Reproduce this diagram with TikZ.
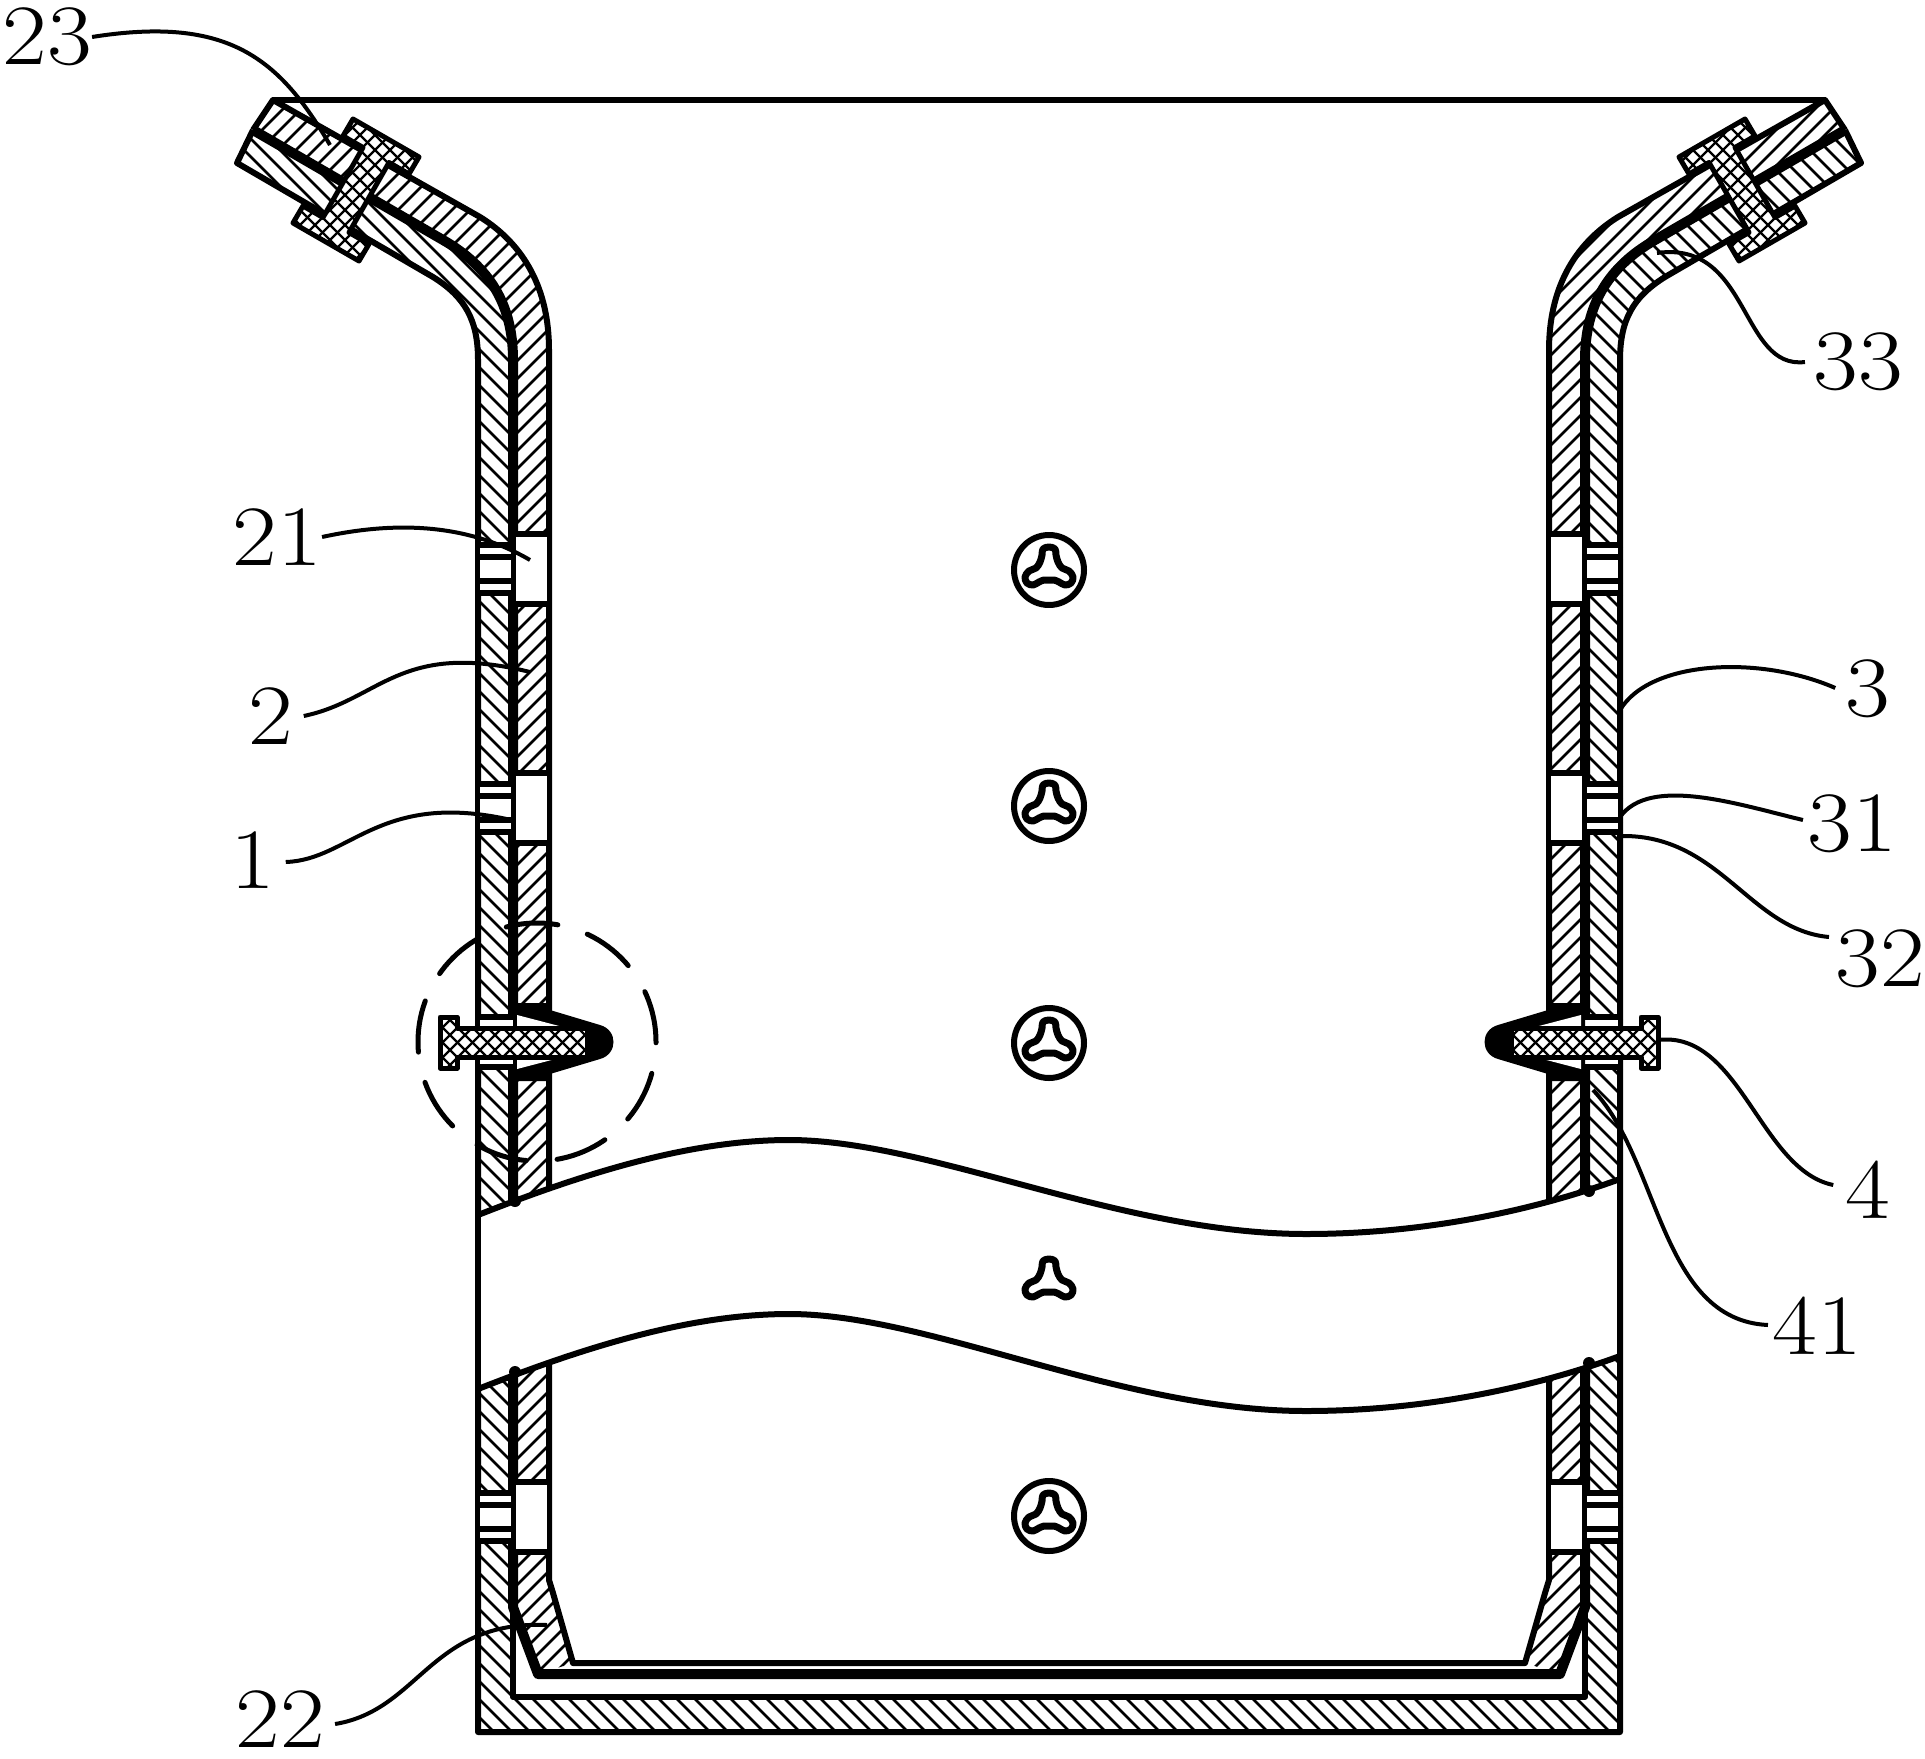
\documentclass[tikz,border=0pt]{standalone}

\tikzset{
    wall/.style={line width=3pt, line join=round},
    liner/.style={line width=5pt, line join=round},
    wave/.style={line width=3pt},
    hatchline/.style={line width=1.3pt},
    crossline/.style={line width=1.2pt},
    leader/.style={line width=2pt},
    lab/.style={font=\fontsize{43}{43}\selectfont, inner sep=0pt, xscale=1.13, transform shape}
}

% #1 slope of the lines, #2 closed path
\newcommand\hatchregion[2]{
    \begin{scope}
        \clip #2;
        \foreach \hc in {-3100,-3082,...,2800} {
            \draw[hatchline] (200,{\hc+\ox+(#1)*200}) -- (1100,{\hc+\ox+(#1)*1100});
        }
    \end{scope}
}
\newcommand\crossregion[1]{
    \fill[white] #1;
    \begin{scope}
        \clip #1;
        \foreach \hc in {-300,-285,...,1700} {
            \draw[crossline] (250,\hc+250) -- (620,\hc+620);
            \draw[crossline] (250,\hc-250) -- (620,\hc-620);
        }
    \end{scope}
    \draw[line width=2.5pt, line join=round] #1;
}

\begin{document}
\begin{tikzpicture}[x=0.5pt, y=-0.5pt]
    \useasboundingbox (0,0) rectangle (1925,1759);

    % Two halves of the cup
    \foreach \sx/\ox in {1/0, -1/2098} {
    \begin{scope}[shift={(\ox,0)}, xscale=\sx]
        % Layers
        \hatchregion{\sx}{(237,163) -- (253,130) -- (443,240) .. controls (490,267) and (513,305) .. (513,360) -- (513,1697) -- (1049,1697) -- (1049,1732) -- (478,1732) -- (478,360) .. controls (478,320) and (465,297) .. (433,277) -- cycle}
        \hatchregion{-\sx}{(273,100) -- (253,130) -- (443,240) .. controls (490,267) and (513,305) .. (513,360) -- (513,1607) -- (538,1674) -- (573,1663) -- (553,1593) -- (549,1580) -- (549,350) .. controls (549,290) and (525,245) .. (480,217) -- cycle}

        % Outlines
        \draw[wall] (253,130) -- (237,163) -- (433,277) .. controls (465,297) and (478,320) .. (478,360) -- (478,1732) -- (1049,1732);
        \draw[wall] (513,1600) -- (513,1697) -- (1049,1697);
        \draw[wall] (253,130) -- (273,100) -- (480,217) .. controls (525,245) and (549,290) .. (549,350) -- (549,1580) -- (553,1593) -- (573,1663) -- (1049,1663);
        \draw[liner] (253,130) -- (443,240) .. controls (490,267) and (513,305) .. (513,360) -- (513,1607) -- (538,1674) -- (1049,1674);

        % Holes
        \foreach \hy in {569,808,1517} {
            \fill[white] (516,\hy-35) rectangle (547,\hy+35);
            \draw[wall] (513,\hy-35) -- (552,\hy-35);
            \draw[wall] (513,\hy+35) -- (552,\hy+35);
            \fill[white] (480,\hy-24) rectangle (511,\hy+24);
            \foreach \dy in {-24,-12,12,24} {
                \draw[wall] (475,\hy+\dy) -- (513,\hy+\dy);
            }
        }

        % Side clip
        \fill[white] (480,1017) rectangle (516,1067);
        \draw[wall] (475,1017) -- (516,1017);
        \draw[wall] (475,1067) -- (516,1067);
        \fill (513,1003) -- (550,1003) -- (550,1010) -- (600,1025) .. controls (618,1030) and (618,1054) .. (600,1059) -- (550,1074) -- (550,1081) -- (513,1081) -- cycle;
        \fill[white] (517,1015) -- (563,1027) -- (517,1027) -- cycle;
        \fill[white] (517,1069) -- (563,1057) -- (517,1057) -- cycle;
        \crossregion{(440,1017) -- (457,1017) -- (457,1028) -- (587,1028) -- (587,1057) -- (457,1057) -- (457,1068) -- (440,1068) -- cycle}

        % Flange clip
        \crossregion{(353,119) -- (419,157) -- (409,174) -- (389,162.5) -- (349,232.5) -- (369,244) -- (359,261) -- (293,223) -- (303,206) -- (323,217.5) -- (363,147.5) -- (343,136) -- cycle}
    \end{scope}
    }

    % Rim
    \draw[wall] (273,100) -- (1825,100);

    % Break
    \fill[white] (478,1215) .. controls (585,1173) and (690,1140) .. (789,1140) .. controls (930,1140) and (1120,1234) .. (1306,1234) .. controls (1420,1234) and (1530,1212) .. (1620,1179) -- (1620,1356) .. controls (1530,1389) and (1420,1411) .. (1306,1411) .. controls (1120,1411) and (930,1314) .. (789,1314) .. controls (690,1314) and (585,1347) .. (478,1389) -- cycle;
    \draw[wave] (478,1215) .. controls (585,1173) and (690,1140) .. (789,1140) .. controls (930,1140) and (1120,1234) .. (1306,1234) .. controls (1420,1234) and (1530,1212) .. (1620,1179);
    \draw[wave] (478,1389) .. controls (585,1347) and (690,1314) .. (789,1314) .. controls (930,1314) and (1120,1411) .. (1306,1411) .. controls (1420,1411) and (1530,1389) .. (1620,1356);
    \draw[wall] (478,1200) -- (478,1400);
    \draw[wall] (1620,1170) -- (1620,1370);
    \foreach \ex/\ey in {515/1201, 515/1372, 1589/1191, 1589/1363} {
        \fill (\ex,\ey) circle (3pt);
    }

    % Marks on the back face
    \foreach \my in {570,806,1043,1516} {
        \draw[wall] (1049,\my) circle (17.5pt);
    }
    \foreach \my in {570,806,1043,1282,1516} {
        \draw[line width=3.5pt, line join=round] plot[smooth cycle, tension=0.6] coordinates {(1049,\my-23) (1055,\my-21) (1056,\my-15) (1058,\my-8) (1062,\my-2) (1069,\my+1) (1073,\my+7) (1071,\my+13) (1065,\my+15) (1059,\my+12) (1054,\my+10) (1049,\my+10) (1044,\my+10) (1039,\my+12) (1033,\my+15) (1027,\my+13) (1025,\my+7) (1029,\my+1) (1036,\my-2) (1040,\my-8) (1042,\my-15) (1043,\my-21)};
    }

    % Detail circle
    \draw[line width=2.5pt, line cap=round, dash pattern=on 26pt off 15.5pt] (537,1042) circle (59.5pt);

    % Labels
    \node[lab] (l23) at (47,37) {23};
    \node[lab] (l21) at (277,537) {21};
    \node[lab] (l2) at (271,716) {2};
    \node[lab] (l1) at (253,860) {1};
    \node[lab] (l22) at (280,1719) {22};
    \node[lab] (l33) at (1858,362) {33};
    \node[lab] (l3) at (1868,689) {3};
    \node[lab] (l31) at (1852,824) {31};
    \node[lab] (l32) at (1880,959) {32};
    \node[lab] (l4) at (1868,1190) {4};
    \node[lab] (l41) at (1817,1326) {41};

    % Leader ends
    \coordinate (t23) at (330,145);
    \coordinate (t21) at (530,560);
    \coordinate (t2) at (530,672);
    \coordinate (t1) at (511,820);
    \coordinate (t22) at (547,1625);
    \coordinate (t33) at (1657,253);
    \coordinate (t3) at (1620,710);
    \coordinate (t31) at (1620,817);
    \coordinate (t32) at (1622,836);
    \coordinate (t4) at (1658,1040);
    \coordinate (t41) at (1593,1090);

    % Leaders
    \draw[leader] (l23.east) .. controls (230,15) and (280,60) .. (t23);
    \draw[leader] (l21.east) .. controls (400,520) and (470,525) .. (t21);
    \draw[leader] (l2.east) ++(10,0) .. controls (380,700) and (400,640) .. (t2);
    \draw[leader] (l1.east) ++(10,2) .. controls (350,860) and (380,790) .. (t1);
    \draw[leader] (l22.east) ++(10,5) .. controls (420,1710) and (430,1620) .. (t22);
    \draw[leader] (l33.west) ++(-8,0) .. controls (1740,370) and (1750,240) .. (t33);
    \draw[leader] (l3.west) ++(-10,-1) .. controls (1760,655) and (1650,660) .. (t3);
    \draw[leader] (l31.west) ++(-4,-4) .. controls (1740,805) and (1650,775) .. (t31);
    \draw[leader] (l32.west) ++(-6,-22) .. controls (1750,930) and (1720,835) .. (t32);
    \draw[leader] (l4.west) ++(-12,-5) .. controls (1760,1170) and (1740,1030) .. (t4);
    \draw[leader] (l41.west) ++(-4,-1) .. controls (1660,1320) and (1660,1160) .. (t41);
\end{tikzpicture}
\end{document}
